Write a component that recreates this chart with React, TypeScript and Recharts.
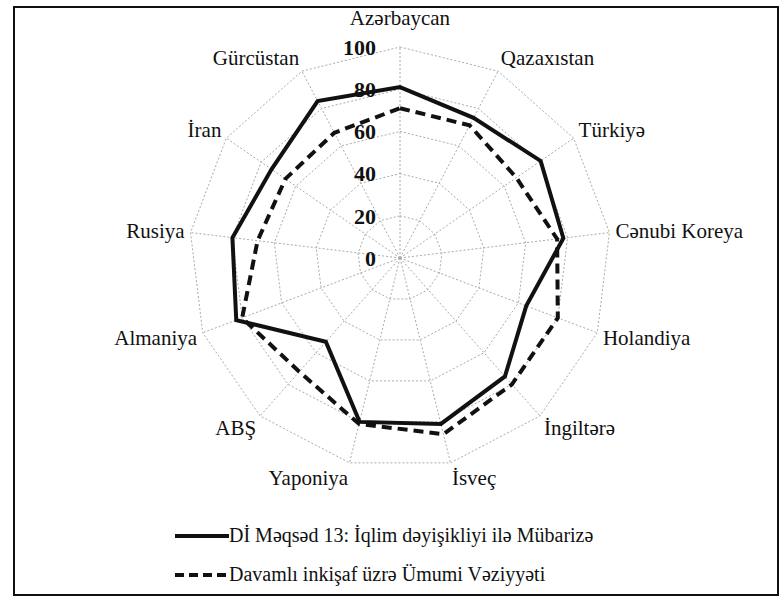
import { RadarChart, Radar, PolarGrid, PolarAngleAxis, PolarRadiusAxis, Legend } from "recharts"

const CATEGORIES = [
  "Azərbaycan",
  "Qazaxıstan",
  "Türkiyə",
  "Cənubi Koreya",
  "Holandiya",
  "İngiltərə",
  "İsveç",
  "Yaponiya",
  "ABŞ",
  "Almaniya",
  "Rusiya",
  "İran",
  "Gürcüstan",
]
const CLIMATE = [81, 75, 81, 78, 64, 75, 81, 80, 53, 83, 80, 74, 84]
const OVERALL = [71, 71, 67, 75, 80, 80, 86, 81, 72, 80, 68, 66, 67]
const RADIUS_TICKS = [0, 20, 40, 60, 80, 100]
const SERIES_NAMES = ["Dİ Məqsəd 13: İqlim dəyişikliyi ilə Mübarizə", "Davamlı inkişaf üzrə Ümumi Vəziyyəti"]

const data = CATEGORIES.map((name, i) => ({ name, climate: CLIMATE[i], overall: OVERALL[i] }))

const CX = 400
const CY = 258
const R = 211
const FONT = "'Liberation Serif', 'Times New Roman', serif"

function AngleTick(props: any) {
  const { payload } = props
  const a = (payload.coordinate * Math.PI) / 180
  const cos = Math.cos(a)
  const sin = Math.sin(a)
  const gap = Math.abs(cos) < 0.1 && sin > 0 ? 20 : 6
  const px = CX + (R + gap) * cos
  const py = CY - (R + gap) * sin - sin * 9
  const anchor = cos > 0.1 ? "start" : cos < -0.1 ? "end" : "middle"
  return (
    <text x={px} y={py} dy="0.35em" textAnchor={anchor} fontFamily={FONT} fontSize={21} fill="#111">
      {payload.value}
    </text>
  )
}

function RadiusTick(props: any) {
  const { x, y, payload } = props
  return (
    <text x={x - 24} y={y} dy="0.35em" textAnchor="end" fontFamily={FONT} fontSize={22} fontWeight="bold" fill="#111">
      {payload.value}
    </text>
  )
}

function LegendRows() {
  return (
    <div style={{ fontFamily: FONT, fontSize: 20, color: "#111" }}>
      {SERIES_NAMES.map((name, i) => (
        <div key={name} style={{ display: "flex", alignItems: "center", height: 39, paddingLeft: 175 }}>
          <svg width={54} height={10}>
            <line
              x1={0}
              y1={5}
              x2={54}
              y2={5}
              stroke="#111"
              strokeWidth={4}
              strokeDasharray={i === 1 ? "9 5" : undefined}
            />
          </svg>
          <span>{name}</span>
        </div>
      ))}
    </div>
  )
}

export default function App() {
  return (
    <div style={{ position: "absolute", left: 0, top: 0, width: 783, height: 602, background: "#fff" }}>
      <div
        style={{
          position: "absolute",
          left: 13,
          top: 6,
          width: 762,
          height: 586,
          border: "2px solid #111",
        }}
      />
      <RadarChart width={783} height={602} data={data} cx={CX} cy={CY} outerRadius={R} margin={{ top: 0, right: 0, bottom: 0, left: 0 }}>
        <PolarGrid gridType="polygon" stroke="#aaa" strokeDasharray="2 2" strokeWidth={1} />
        <PolarAngleAxis dataKey="name" tick={AngleTick} tickLine={false} axisLine={false} />
        <PolarRadiusAxis
          angle={90}
          domain={[0, 100]}
          ticks={RADIUS_TICKS}
          tickCount={6}
          axisLine={false}
          tickLine={false}
          tick={RadiusTick}
        />
        <Radar
          name={SERIES_NAMES[1]}
          dataKey="overall"
          stroke="#111"
          strokeWidth={4}
          strokeDasharray="10 6"
          fill="none"
          fillOpacity={0}
          dot={false}
          isAnimationActive={false}
        />
        <Radar
          name={SERIES_NAMES[0]}
          dataKey="climate"
          stroke="#111"
          strokeWidth={4}
          fill="none"
          fillOpacity={0}
          dot={false}
          isAnimationActive={false}
        />
        <Legend
          content={<LegendRows />}
          wrapperStyle={{ position: "absolute", left: 0, top: 516, width: 783 }}
        />
      </RadarChart>
    </div>
  )
}
